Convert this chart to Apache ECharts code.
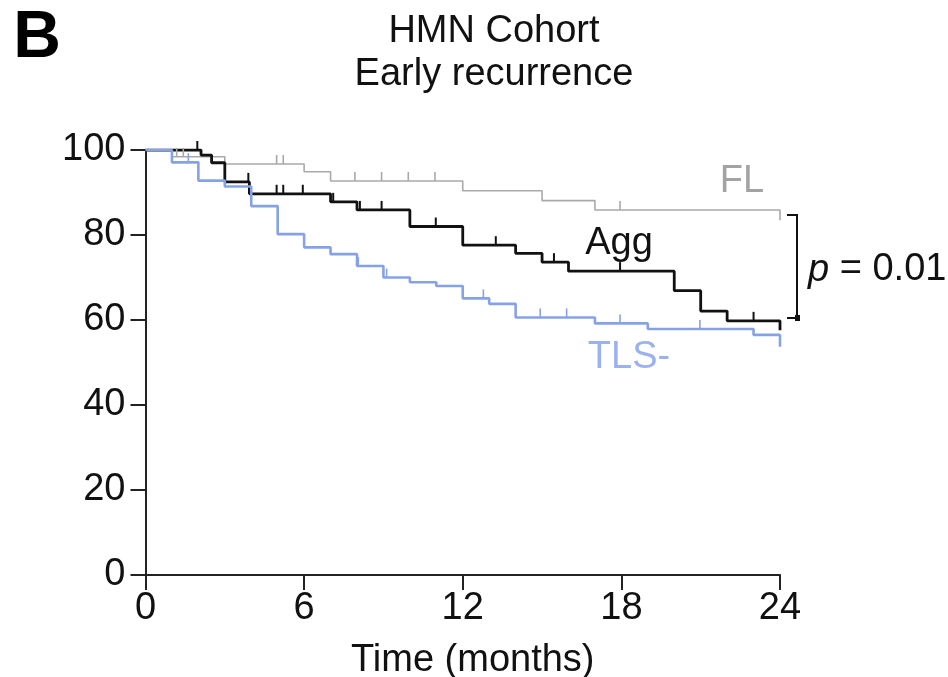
<!DOCTYPE html>
<html>
<head>
<meta charset="utf-8">
<script src="https://cdn.jsdelivr.net/npm/echarts@6/dist/echarts.min.js"></script>
<style>
html,body{margin:0;padding:0;background:#fff;}
#chart{width:948px;height:677px;}
</style>
</head>
<body>
<div id="chart"></div>
<script>
// ---- data (months, survival %) ----
var xTicks = [0, 6, 12, 18, 24];
var yTicks = [0, 20, 40, 60, 80, 100];

var flTimes  = [0, 1, 3, 6, 7, 12, 15, 17, 24];
var flValues = [100, 98.4, 96.7, 94.9, 92.7, 90.4, 88.1, 85.9, 83.5];
var flCensor = [1.18, 1.43, 4.96, 5.21, 7.92, 8.93, 9.94, 10.95, 17.95];

var aggTimes  = [0, 2.1, 2.5, 3, 3.93, 7, 8, 10, 12, 14, 15, 16, 20, 21, 22, 24];
var aggValues = [100, 98.8, 97.0, 92.5, 89.7, 87.8, 85.9, 82.0, 77.6, 75.7, 73.6, 71.5, 66.9, 62.1, 59.8, 57.6];
var aggCensor = [1.96, 3.89, 4.96, 5.21, 5.95, 7.1, 8.11, 8.93, 10.98, 13.25, 15.45, 17.95, 23.0];

var tlsTimes  = [0, 1, 2, 3, 4, 5, 6, 7, 8, 9, 10, 11, 12, 13, 14, 17, 19, 23, 24];
var tlsValues = [100, 97.1, 92.8, 91.4, 86.8, 80.2, 77.1, 75.5, 72.7, 70.0, 68.9, 68.0, 65.1, 63.8, 60.6, 59.2, 57.9, 56.5, 53.7];
var tlsCensor = [1.62, 8.05, 9.12, 12.78, 14.93, 15.93, 17.95, 20.97];

var groupNames = ['FL', 'Agg', 'TLS-'];
var titleLines = ['HMN Cohort', 'Early recurrence'];
var xAxisName = 'Time (months)';
var pText = '0.01';

// ---- build ----
var FONT = '"Liberation Sans", Arial, Helvetica, sans-serif';
var FS = 38;
var colFL = '#a9a9a9', colAgg = '#111111', colTLS = '#86a2e6';

function pairs(ts, vs){ return ts.map(function(t,i){ return [t, vs[i]]; }); }
function stepVal(ts, vs, t){
  var v = vs[0];
  for (var i = 0; i < ts.length; i++){ if (ts[i] <= t) v = vs[i]; }
  return v;
}
function censorData(cs, ts, vs){ return cs.map(function(c){ return [c, stepVal(ts, vs, c)]; }); }

function tickSeries(name, data, color, width){
  return {
    type: 'custom', name: name, data: data, z: 5, silent: true,
    renderItem: function(params, api){
      var p = api.coord([api.value(0), api.value(1)]);
      return { type: 'line', shape: {x1: p[0], y1: p[1], x2: p[0], y2: p[1] - 9},
               style: {stroke: color, lineWidth: width} };
    }
  };
}
function kmSeries(name, ts, vs, color, width, z){
  return { type: 'line', name: name, step: 'end', data: pairs(ts, vs), showSymbol: false,
           symbol: 'none', z: z, lineStyle: {color: color, width: width}, animation: false };
}

var chart = echarts.init(document.getElementById('chart'), null, {renderer: 'canvas'});
var option = {
  animation: false,
  backgroundColor: '#ffffff',
  grid: {left: 145.5, right: 168, top: 150, bottom: 102, containLabel: false, outerBoundsMode: 'none'},
  xAxis: {
    type: 'value', min: xTicks[0], max: xTicks[xTicks.length-1], interval: 6,
    axisLine: {lineStyle: {color: '#222', width: 2}},
    axisTick: {show: true, inside: false, length: 15, lineStyle: {color: '#222', width: 2}},
    axisLabel: {color: '#111', fontSize: FS, fontFamily: FONT, margin: 15},
    splitLine: {show: false},
    name: xAxisName, nameLocation: 'middle', nameGap: 67,
    nameTextStyle: {color: '#111', fontSize: FS, fontFamily: FONT, padding: [0, 0, 0, 20]}
  },
  yAxis: {
    type: 'value', min: yTicks[0], max: yTicks[yTicks.length-1], interval: 20,
    axisLine: {show: true, lineStyle: {color: '#222', width: 2}},
    axisTick: {show: true, inside: false, length: 15, lineStyle: {color: '#222', width: 2}},
    axisLabel: {color: '#111', fontSize: FS, fontFamily: FONT, margin: 20},
    splitLine: {show: false}
  },
  series: [
    kmSeries(groupNames[0], flTimes, flValues, colFL, 1.6, 2),
    tickSeries(groupNames[0] + ' censored', censorData(flCensor, flTimes, flValues), colFL, 1.6),
    kmSeries(groupNames[1], aggTimes, aggValues, colAgg, 2.8, 3),
    tickSeries(groupNames[1] + ' censored', censorData(aggCensor, aggTimes, aggValues), colAgg, 2),
    kmSeries(groupNames[2], tlsTimes, tlsValues, colTLS, 2.6, 4),
    tickSeries(groupNames[2] + ' censored', censorData(tlsCensor, tlsTimes, tlsValues), colTLS, 1.6)
  ],
  graphic: [
    {type: 'text', x: 37, y: 39, style: {text: 'B', font: 'bold 66px ' + FONT, fill: '#000', textAlign: 'center', textVerticalAlign: 'middle'}},
    {type: 'text', x: 494, y: 32, style: {text: titleLines[0], font: FS + 'px ' + FONT, fill: '#111', textAlign: 'center', textVerticalAlign: 'middle'}},
    {type: 'text', x: 494, y: 75, style: {text: titleLines[1], font: FS + 'px ' + FONT, fill: '#111', textAlign: 'center', textVerticalAlign: 'middle'}},
    {type: 'text', x: 742, y: 182, style: {text: groupNames[0], font: FS + 'px ' + FONT, fill: '#a3a3a3', textAlign: 'center', textVerticalAlign: 'middle'}},
    {type: 'text', x: 619, y: 244, style: {text: groupNames[1], font: FS + 'px ' + FONT, fill: '#111', textAlign: 'center', textVerticalAlign: 'middle'}},
    {type: 'text', x: 629, y: 358, style: {text: groupNames[2], font: FS + 'px ' + FONT, fill: '#9bb2ee', textAlign: 'center', textVerticalAlign: 'middle'}},
    {type: 'polyline', shape: {points: [[787, 215], [797, 215], [797, 318], [787, 318]]}, style: {stroke: '#111', lineWidth: 2, fill: null}},
    {type: 'rect', shape: {x: 795, y: 315, width: 5, height: 6}, style: {fill: '#111'}},
    {type: 'text', x: 808, y: 270, style: {
      rich: {i: {font: 'italic ' + FS + 'px ' + FONT, fill: '#111'}, n: {font: FS + 'px ' + FONT, fill: '#111'}},
      text: '{i|p}{n| = ' + pText + '}', textVerticalAlign: 'middle'}}
  ]
};
chart.setOption(option);
</script>
</body>
</html>
